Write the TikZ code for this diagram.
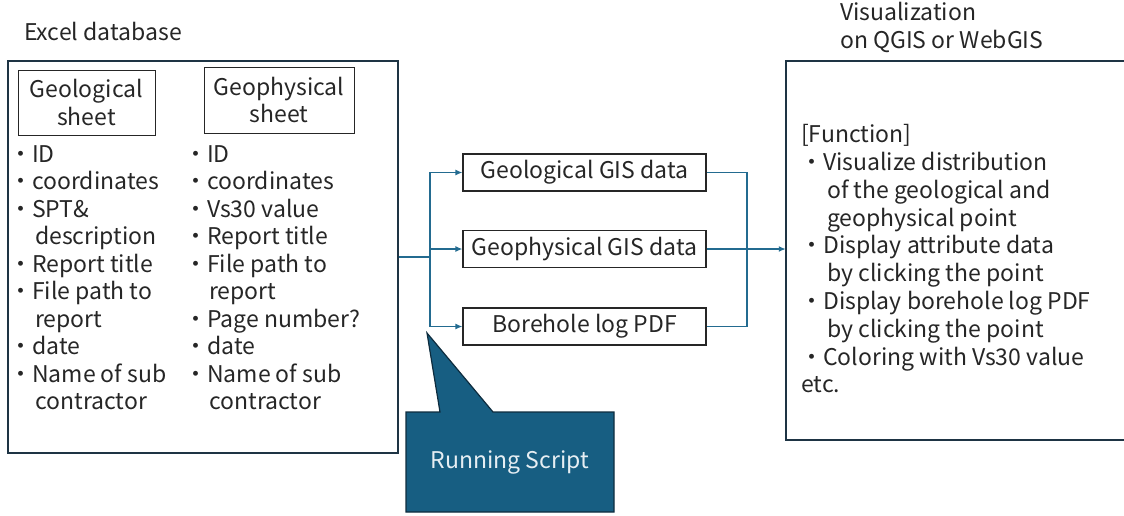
\documentclass[tikz,border=0pt]{standalone}
\usepackage{fontspec}
\setmainfont{Noto Sans CJK JP}
\usetikzlibrary{arrows.meta}
\definecolor{txt}{HTML}{262626}
\definecolor{navy}{HTML}{1E3444}
\definecolor{arrowc}{HTML}{236B90}
\definecolor{calloutfill}{HTML}{175E82}
\definecolor{calloutdraw}{HTML}{0E2C3E}
\definecolor{callouttext}{HTML}{E6EEF3}
\begin{document}
\begin{tikzpicture}[x=1pt,y=-1pt,
  txtfont/.style={font=\fontsize{23}{27.6}\selectfont},
  every node/.style={txtfont,text=txt},
  item/.style={anchor=base west,inner sep=0pt},
  bigbox/.style={draw=navy,line width=1.8pt,inner sep=0pt},
  sheetbox/.style={draw=black!85,line width=1pt,align=center,inner sep=0pt},
  gisbox/.style={draw=black!85,line width=1.1pt,inner sep=0pt,minimum width=243pt,minimum height=37pt},
  conn/.style={draw=arrowc,line width=1.6pt},
  arr/.style={conn,-{Latex[length=7pt,width=6pt]}},
]
\useasboundingbox (0,0) rectangle (1124,515);

% titles
\node[item] (t-excel) at (24,40) {Excel database};
\node[item] (t-viz1) at (840,20.7) {Visualization};
\node[item] (t-viz2) at (840,48) {on QGIS or WebGIS};

% left big box
\node[bigbox,minimum width=390pt,minimum height=392pt] (excel) at (203,257) {};
\node[sheetbox,minimum width=137pt,minimum height=65pt] (geosheet) at (86.5,102.5) {Geological\\sheet};
\node[sheetbox,minimum width=150pt,minimum height=66pt] (gphsheet) at (279,100) {Geophysical\\sheet};

\foreach \x/\t [count=\i] in {9/・ID, 9/・coordinates, 9/・SPT\&, 35/description, 9/・Report title, 9/・File path to, 35/report, 9/・date, 9/・Name of sub, 35/contractor}
  \node[item] (gl-\i) at (\x,{162+27.5*(\i-1)}) {\t};

\foreach \x/\t [count=\i] in {184/・ID, 184/・coordinates, 184/・Vs30 value, 184/・Report title, 184/・File path to, 209/report, 184/・Page number?, 184/・date, 184/・Name of sub, 209/contractor}
  \node[item] (gp-\i) at (\x,{162+27.5*(\i-1)}) {\t};

% GIS boxes
\node[gisbox] (geolgis) at (584.5,172.5) {Geological GIS data};
\node[gisbox] (geophgis) at (584.5,249) {Geophysical GIS data};
\node[gisbox] (borehole) at (584.5,326.5) {Borehole log PDF};

% right box
\node[minimum width=340pt,minimum height=379pt,inner sep=0pt] (viz) at (956,250.5) {};
\draw[navy,line width=1.8pt] (viz.north east) -- (viz.north west) -- (viz.south west) -- (viz.south east);

\foreach \x/\t [count=\i] in {801/[Function], 800/・Visualize distribution, 827/of the geological and, 827/geophysical point, 800/・Display attribute data, 827/by clicking the point, 800/・Display borehole log PDF, 827/by clicking the point, 800/・Coloring with Vs30 value, 801/etc.}
  \node[item] (fn-\i) at (\x,{142.7+27.8*(\i-1)}) {\t};

% connectors
\coordinate (split) at (430,257);
\coordinate (merge) at (747,249);
\draw[conn] (excel.east) -- (split);
\draw[arr] (split) |- (geolgis.west);
\draw[arr] (split) |- (geophgis.west);
\draw[arr] (split) |- (borehole.west);
\draw[conn] (geolgis.east) -| (merge);
\draw[conn] (borehole.east) -| (merge);
\draw[arr] (geophgis.east) -- (geophgis.east -| viz.west);

% callout
\filldraw[fill=calloutfill,draw=calloutdraw,line width=1.2pt]
  (406,412) -- (440,412) -- (427,333) -- (493,412) -- (614,412) -- (614,512) -- (406,512) -- cycle;
\node[text=callouttext] (script) at (510,462) {Running Script};
\end{tikzpicture}
\end{document}
